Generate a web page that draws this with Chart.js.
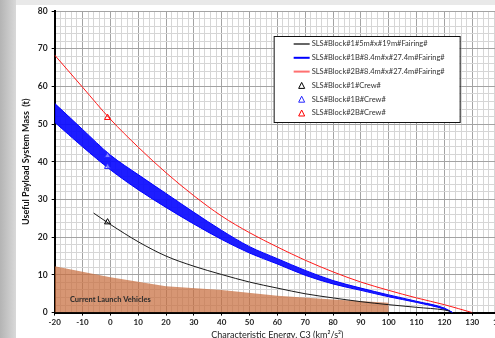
<!DOCTYPE html>
<html>
<head>
<meta charset="utf-8">
<script src="https://cdn.jsdelivr.net/npm/chart.js@4.4.0/dist/chart.umd.min.js"></script>
<style>
  html, body { margin: 0; padding: 0; overflow: hidden; background: #fff; }
  #wrap { position: absolute; left: 0; top: 0; width: 509px; height: 340px; }
</style>
</head>
<body>
<div id="wrap"><canvas id="c3Chart" width="509" height="340"></canvas></div>
<script>
// values
var block1C3   = [-6, 0, 10, 20, 30, 40, 50, 60, 70, 80, 90, 100, 110, 120, 122];
var block1Mass = [26.4, 23.4, 18.8, 15.0, 12.3, 10.1, 8.1, 6.5, 5.0, 3.9, 2.9, 2.1, 1.4, 0.7, 0.4];

var block1bC3    = [-20, -10, 0, 10, 20, 30, 40, 50, 60, 70, 80, 90, 100, 110, 120, 123];
var block1bUpper = [55.5, 48.6, 41.8, 36.6, 31.6, 26.6, 21.8, 17.5, 14.3, 11.2, 8.5, 6.5, 4.7, 3.0, 1.2, 0];
var block1bLower = [50.5, 44.0, 37.9, 32.6, 27.9, 23.5, 19.4, 15.8, 12.9, 9.9, 7.6, 5.9, 4.2, 2.7, 0.9, 0];

var block2bC3   = [-20, -10, 0, 10, 20, 30, 40, 50, 60, 70, 80, 90, 100, 110, 120, 130];
var block2bMass = [68.3, 59.8, 51.3, 43.9, 37.1, 31.0, 25.6, 21.2, 17.4, 13.9, 10.8, 8.1, 5.9, 3.9, 2.1, 0];

var crewC3 = -1;
var block1Crew  = [24];
var block1bCrew = [41.6, 38.7];
var block2bCrew = [51.7];

var lvC3   = [-20, 0, 20, 40, 60, 80, 100, 100];
var lvMass = [12.3, 9.4, 7.0, 6.0, 4.5, 3.5, 2.6, 0];

var seriesLabels = [
  'SLS#Block#1#5m#x#19m#Fairing#',
  'SLS#Block#1B#8.4m#x#27.4m#Fairing#',
  'SLS#Block#2B#8.4m#x#27.4m#Fairing#',
  'SLS#Block#1#Crew#',
  'SLS#Block#1B#Crew#',
  'SLS#Block#2B#Crew#'
];

function pts(xs, ys) {
  return ys.map(function (y, i) { return {x: xs[i], y: y}; });
}
function crewPts(ys) {
  return ys.map(function (y) { return {x: crewC3, y: y}; });
}

var FONT = 'Lato, "Open Sans", sans-serif';

var backdrop = {
  id: 'backdrop',
  beforeDraw: function (chart) {
    var ctx = chart.ctx;
    ctx.save();
    ctx.fillStyle = '#ffffff';
    ctx.fillRect(0, 0, chart.width, chart.height);
    ctx.fillStyle = '#e9e9e9';
    ctx.fillRect(0, 0, chart.width, 5);
    var g = ctx.createLinearGradient(0, 0, 16, 0);
    g.addColorStop(0, '#b4b4b4');
    g.addColorStop(1, '#d9d9d9');
    ctx.fillStyle = g;
    ctx.fillRect(0, 0, 16, chart.height);
    ctx.restore();
  }
};

var boxLegend = {
  id: 'boxLegend',
  afterDraw: function (chart) {
    var ctx = chart.ctx, a = chart.chartArea;
    var left = a.left + 219, top = a.top + 25, w = 186, h = 86;
    ctx.save();
    ctx.fillStyle = '#ffffff';
    ctx.fillRect(left, top, w, h);
    ctx.strokeStyle = '#111';
    ctx.lineWidth = 1;
    ctx.strokeRect(left + 0.5, top + 0.5, w, h);
    ctx.font = '7.5px ' + FONT;
    ctx.textBaseline = 'middle';
    chart.data.datasets.forEach(function (ds) {
      if (ds.legendRow === undefined) return;
      var y = top + 8 + ds.legendRow * 13.8;
      if (ds.showLine === false) {
        ctx.strokeStyle = ds.borderColor;
        ctx.lineWidth = 1;
        ctx.beginPath();
        ctx.moveTo(left + 28, y - 3);
        ctx.lineTo(left + 31, y + 3);
        ctx.lineTo(left + 25, y + 3);
        ctx.closePath();
        ctx.stroke();
      } else {
        ctx.strokeStyle = ds.legendColor || ds.borderColor;
        ctx.lineWidth = 2;
        ctx.beginPath();
        ctx.moveTo(left + 20, y);
        ctx.lineTo(left + 36, y);
        ctx.stroke();
      }
      ctx.fillStyle = '#333';
      ctx.fillText(ds.label, left + 38, y);
    });
    ctx.restore();
  }
};

var lvLabel = {
  id: 'lvLabel',
  afterDatasetsDraw: function (chart) {
    var ctx = chart.ctx;
    var x = chart.scales.x.getPixelForValue(0);
    var y = chart.scales.y.getPixelForValue(3.4);
    ctx.save();
    ctx.font = 'bold 7.5px ' + FONT;
    ctx.fillStyle = '#2b2b2b';
    ctx.textAlign = 'center';
    ctx.textBaseline = 'middle';
    ctx.fillText('Current Launch Vehicles', x, y);
    ctx.restore();
  }
};

function gridColor(c) {
  var v = c.tick ? c.tick.value : 0;
  return v % 10 === 0 ? '#a3a3a3' : '#d6d6d6';
}
function tickColor(c) {
  var v = c.tick ? c.tick.value : 0;
  return v % 10 === 0 ? '#000' : 'rgba(0,0,0,0)';
}
function tenLabel(v) {
  return v % 10 === 0 ? String(v) : '';
}

var ctx = document.getElementById('c3Chart').getContext('2d');
var chart = new Chart(ctx, {
  type: 'scatter',
  data: {
    datasets: [
      {label: seriesLabels[0], legendRow: 0, data: pts(block1C3, block1Mass), showLine: true,
       borderColor: '#1a1a1a', legendColor: '#666', borderWidth: 1, pointRadius: 0,
       cubicInterpolationMode: 'monotone', fill: false},
      {label: seriesLabels[1], legendRow: 1, data: pts(block1bC3, block1bUpper), showLine: true,
       borderColor: '#0000ff', borderWidth: 1, pointRadius: 0, cubicInterpolationMode: 'monotone', fill: false},
      {label: '', data: pts(block1bC3, block1bLower), showLine: true,
       borderColor: '#0000ff', backgroundColor: 'rgba(10,10,255,0.92)', borderWidth: 1, pointRadius: 0,
       cubicInterpolationMode: 'monotone', fill: '-1'},
      {label: seriesLabels[2], legendRow: 2, data: pts(block2bC3, block2bMass), showLine: true,
       borderColor: '#ff1a1a', legendColor: '#ff7070', borderWidth: 1, pointRadius: 0,
       cubicInterpolationMode: 'monotone', fill: false},
      {label: seriesLabels[3], legendRow: 3, data: crewPts(block1Crew), showLine: false, order: -1,
       pointStyle: 'triangle', pointRadius: 3.5, borderColor: '#000', backgroundColor: 'rgba(0,0,0,0)', borderWidth: 1},
      {label: seriesLabels[4], legendRow: 4, data: crewPts(block1bCrew), showLine: false, order: -1,
       pointStyle: 'triangle', pointRadius: 3.5, borderColor: '#2626ff', backgroundColor: 'rgba(255,255,255,0.45)', borderWidth: 1},
      {label: seriesLabels[5], legendRow: 5, data: crewPts(block2bCrew), showLine: false, order: -1,
       pointStyle: 'triangle', pointRadius: 3.5, borderColor: '#ff0000', backgroundColor: 'rgba(0,0,0,0)', borderWidth: 1},
      {label: '', data: pts(lvC3, lvMass), showLine: true,
       borderColor: 'rgba(0,0,0,0)', backgroundColor: 'rgba(200,110,62,0.72)', borderWidth: 0, pointRadius: 0, tension: 0, fill: 'origin'}
    ]
  },
  options: {
    responsive: false,
    animation: false,
    layout: {padding: {left: 21, top: 11, right: 0, bottom: 0}},
    plugins: {legend: {display: false}, tooltip: {enabled: false}},
    scales: {
      x: {
        type: 'linear', min: -20, max: 140,
        ticks: {stepSize: 2, autoSkip: false, maxRotation: 0, callback: tenLabel,
                font: {family: FONT, size: 8, weight: 'bold'}, color: '#222', padding: 2},
        grid: {color: gridColor, tickColor: tickColor, tickLength: 3, lineWidth: 1},
        border: {color: '#000', width: 2},
        title: {display: true, text: 'Characteristic Energy, C3 (km\u00b2/s\u00b2)',
                font: {family: FONT, size: 9}, color: '#222', padding: {top: 0, bottom: 0}}
      },
      y: {
        min: 0, max: 80,
        ticks: {stepSize: 2, autoSkip: false, callback: tenLabel,
                font: {family: FONT, size: 8.5, weight: 'bold'}, color: '#222', padding: 4},
        grid: {color: gridColor, tickColor: tickColor, tickLength: 3, lineWidth: 1},
        border: {color: '#000', width: 2},
        title: {display: true, text: 'Useful Payload System Mass  (t)',
                font: {family: FONT, size: 9, weight: 'bold'}, color: '#111', padding: {top: 0, bottom: 2}}
      }
    }
  },
  plugins: [backdrop, lvLabel, boxLegend]
});
</script>
</body>
</html>
